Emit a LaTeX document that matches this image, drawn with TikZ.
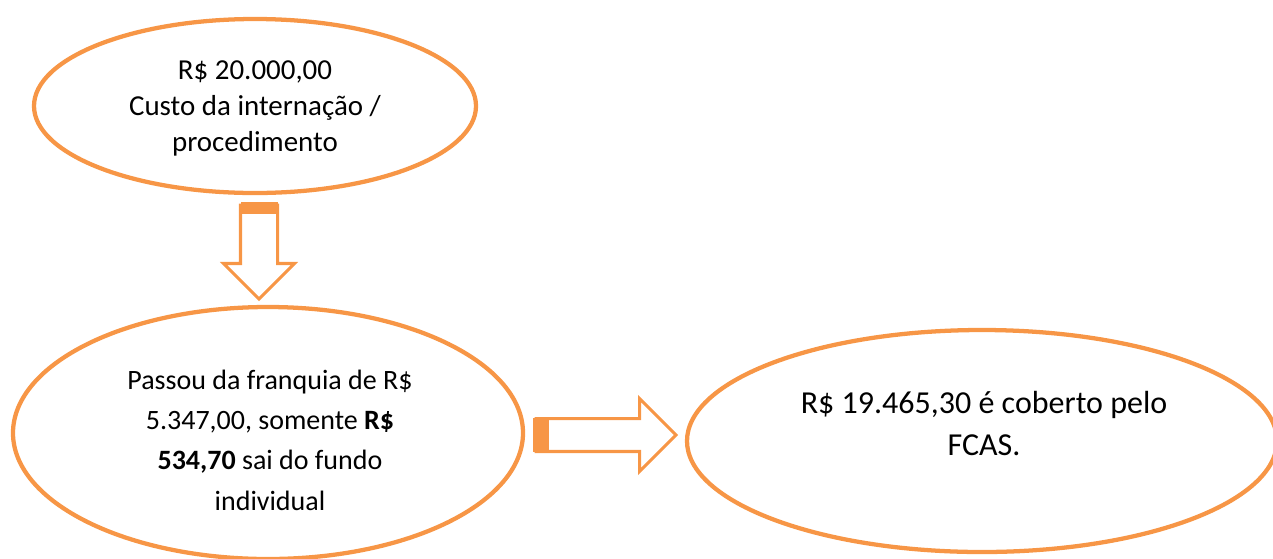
\documentclass[tikz,border=0pt]{standalone}
\usepackage{fontspec}
\setmainfont{Carlito}
\usetikzlibrary{shapes.geometric,shapes.arrows,calc}
\definecolor{accent}{HTML}{F79646}

\begin{document}
\begin{tikzpicture}[
  x=0.75pt, y=-0.75pt,
  bubble/.style={draw=accent, line width=3.2pt, ellipse, inner sep=0pt},
  txt/.style={align=center, inner sep=0pt},
  bigarrow/.style={draw=accent, line width=2.3pt, single arrow, single arrow head extend=#1, inner xsep=0pt, minimum width=0pt, anchor=tail}
]
\useasboundingbox (0,0) rectangle (1273,558);
\clip (0,0) rectangle (1273,558);

\node[bubble, minimum width=331.5pt, minimum height=130.5pt] (cost) at (255,106) {};
\node[bubble, minimum width=382.5pt, minimum height=189pt] (deductible) at (268,433) {};
\node[bubble, minimum width=442.5pt, minimum height=166.5pt] (cover) at (982,441) {};

\node[txt, font=\fontsize{21.7}{27}\selectfont] (costText) at (255,108) {R\$ 20.000,00\\Custo da internação /\\procedimento};
\node[txt, font=\fontsize{21}{30.2}\selectfont] (deductibleText) at (270,440) {Passou da franquia de R\$\\5.347,00, somente \textbf{R\$}\\\textbf{534,70} sai do fundo\\individual};
\node[txt, font=\fontsize{24}{31.5}\selectfont] (coverText) at (984,424) {R\$ 19.465,30 é coberto pelo\\FCAS.};

\node[bigarrow=12.75pt, inner ysep=12.75pt, minimum height=70.5pt, rotate=-90] (drop) at (259,203.5) {};
\fill[accent] ($(drop.tail)+(-18.5,-1.5)$) rectangle ($(drop.tail)+(18.5,10)$);

\node[bigarrow=15pt, inner ysep=11.2pt, minimum height=105pt] (across) at (534.5,435) {};
\fill[accent] ($(across.tail)+(-1.5,-17)$) rectangle ($(across.tail)+(14,17)$);
\end{tikzpicture}
\end{document}
